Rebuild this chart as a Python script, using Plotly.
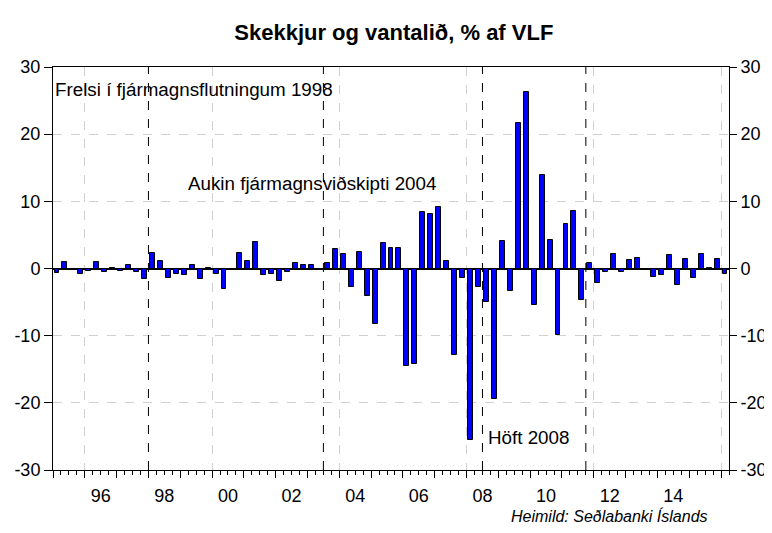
import plotly.graph_objects as go

# Quarterly data 1995Q1 - 2016Q1
start_year = 1995
values = [
    -0.7, 0.9, -0.15, -0.75,      # 1995
    -0.35, 1.0, -0.45, 0.1,       # 1996
    -0.3, 0.55, -0.45, -1.5,      # 1997
    2.3, 1.15, -1.45, -0.85,      # 1998
    -1.0, 0.55, -1.6, 0.1,        # 1999
    -0.85, -3.1, -0.25, 2.3,      # 2000
    1.1, 4.0, -0.9, -0.85,        # 2001
    -1.9, -0.55, 0.8, 0.5,        # 2002
    0.5, 0.0, 0.85, 2.9,          # 2003
    2.15, -2.8, 2.5, -4.15,       # 2004
    -8.3, 3.85, 3.0, 3.0,         # 2005
    -14.5, -14.2, 8.4, 8.1,       # 2006
    9.2, 1.1, -12.9, -1.4,        # 2007
    -25.6, -2.8, -5.0, -19.4,     # 2008
    4.1, -3.3, 21.6, 26.3,        # 2009
    -5.4, 13.9, 4.3, -9.95,       # 2010
    6.6, 8.5, -4.75, 0.85,        # 2011
    -2.2, -0.55, 2.1, -0.55,      # 2012
    1.25, 1.6, -0.1, -1.2,        # 2013
    -0.95, 2.0, -2.5, 1.4,        # 2014
    -1.4, 2.1, 0.05, 1.4,         # 2015
    -0.75,                        # 2016
]
quarter_pos = [start_year + (i + 0.5) / 4 for i in range(len(values))]

year_label_pos = [1996.5, 1998.5, 2000.5, 2002.5, 2004.5, 2006.5, 2008.5, 2010.5, 2012.5, 2014.5]
year_labels = ["96", "98", "00", "02", "04", "06", "08", "10", "12", "14"]
y_ticks = [-30, -20, -10, 0, 10, 20, 30]
y_tick_labels = ["-30", "-20", "-10", "0", "10", "20", "30"]

event_dates = [1998.0, 2003.5, 2008.5, 2011.75]
event_texts = ["Frelsi í fjármagnsflutningum 1998", "Aukin fjármagnsviðskipti 2004", "Höft 2008"]
event_text_x = [1995.0, 1999.19, 2008.6]
event_text_y = [26.7, 12.6, -25.1]

title_text = "Skekkjur og vantalið, % af VLF"
source_text = "Heimild: Seðlabanki Íslands"

FONT = "Arial, 'Liberation Sans', sans-serif"
x_range = [1995.0, 2016.25]

fig = go.Figure()
fig.add_trace(go.Bar(
    x=quarter_pos, y=values, width=0.155,
    marker=dict(color="#0000FF", line=dict(color="black", width=1)),
    showlegend=False, hoverinfo="x+y",
))
# helper empty traces so overlay axes are drawn
fig.add_trace(go.Scatter(x=[], y=[], xaxis="x2", yaxis="y", showlegend=False, hoverinfo="skip"))
fig.add_trace(go.Scatter(x=[], y=[], xaxis="x3", yaxis="y", showlegend=False, hoverinfo="skip"))
fig.add_trace(go.Scatter(x=[], y=[], xaxis="x", yaxis="y2", showlegend=False, hoverinfo="skip"))

for d in event_dates:
    fig.add_shape(type="line", x0=d, x1=d, xref="x", y0=0, y1=1, yref="y domain",
                  line=dict(color="black", width=1, dash="dash"))

for t, xx, yy in zip(event_texts, event_text_x, event_text_y):
    fig.add_annotation(text=t, x=xx, y=yy, xref="x", yref="y", xanchor="left",
                       yanchor="middle", showarrow=False,
                       font=dict(family=FONT, size=18.8, color="black"))

fig.add_annotation(text="<i>" + source_text + "</i>", x=0.972, y=-0.115, xref="paper",
                   yref="paper", xanchor="right", yanchor="middle", showarrow=False,
                   font=dict(family=FONT, size=16, color="black"))

axis_font = dict(family=FONT, size=18, color="black")

# page has an 8px body offset; figure sized so that it ends at the window edge
fig.update_layout(
    width=764, height=525,
    margin=dict(l=45, r=43, t=59, b=63, autoexpand=False),
    paper_bgcolor="white", plot_bgcolor="white",
    title=dict(text="<b>" + title_text + "</b>", x=0.505, xanchor="center",
               yref="container", y=0.954, yanchor="middle",
               font=dict(family=FONT, size=22, color="black")),
    bargap=0,
    xaxis=dict(range=x_range, tickmode="linear", tick0=1995, dtick=1, automargin=False,
               ticks="outside", ticklen=7, tickcolor="black", showticklabels=False,
               showgrid=False, zeroline=False, showline=True, linecolor="black",
               linewidth=1, mirror=True,
               minor=dict(dtick=0.25, tick0=1995, ticks="outside", ticklen=4,
                          tickcolor="black", showgrid=False)),
    xaxis2=dict(range=x_range, overlaying="x", anchor="y", side="bottom", automargin=False,
                tickmode="array", tickvals=year_label_pos, ticktext=year_labels,
                ticks="outside", ticklen=9, tickcolor="rgba(0,0,0,0)",
                showgrid=False, zeroline=False, showline=False, tickfont=axis_font),
    xaxis3=dict(range=x_range, overlaying="x", anchor="y", tickmode="linear", automargin=False,
                tick0=1996, dtick=4, showticklabels=False, ticks="",
                showgrid=True, gridcolor="#d0d0d0", griddash="dash", gridwidth=1,
                zeroline=False, showline=False),
    yaxis=dict(range=[-30, 30], tickmode="array", tickvals=y_ticks, ticktext=y_tick_labels,
               automargin=False,
               ticks="outside", ticklen=8, tickcolor="black", tickfont=axis_font,
               showgrid=True, gridcolor="#d0d0d0", griddash="dash", gridwidth=1,
               zeroline=True, zerolinecolor="black", zerolinewidth=2,
               showline=True, linecolor="black", linewidth=1),
    yaxis2=dict(range=[-30, 30], overlaying="y", side="right", anchor="x", automargin=False,
                tickmode="array", tickvals=y_ticks, ticktext=y_tick_labels,
                ticks="outside", ticklen=7,
                tickcolor="black", tickfont=axis_font, showgrid=False,
                zeroline=False, showline=True, linecolor="black", linewidth=1),
)

fig.write_html("out.html")
